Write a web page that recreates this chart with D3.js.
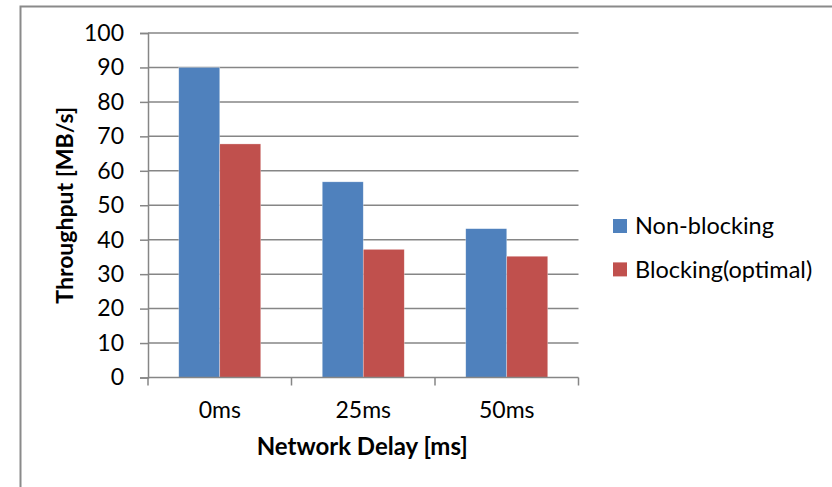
<!DOCTYPE html>
<html>
<head>
<meta charset="utf-8">
<script src="https://cdn.jsdelivr.net/npm/d3@7"></script>
<style>
  html, body { margin: 0; padding: 0; background: #fff; }
  svg { display: block; }
  text { font-family: Lato, "Open Sans", sans-serif; fill: #000; }
</style>
</head>
<body>
<svg id="chart" width="832" height="487"></svg>
<script>
const categories = ["0ms", "25ms", "50ms"];
const seriesNames = ["Non-blocking", "Blocking(optimal)"];
const nonBlocking = [90, 56.8, 43.2];
const blocking = [67.8, 37.2, 35.2];
const yTicks = [0, 10, 20, 30, 40, 50, 60, 70, 80, 90, 100];
const colors = ["#4F81BD", "#C0504D"];

(function () {
const svg = d3.select("#chart");
const W = 832, H = 487;

// outer frame
svg.append("rect")
  .attr("x", 20.5).attr("y", 6.5)
  .attr("width", W + 10).attr("height", H + 10)
  .attr("fill", "none").attr("stroke", "#8a8a8a").attr("stroke-width", 2);

const pL = 148, pR = 578.5, pT = 33, pB = 377.5;

const x = d3.scaleBand().domain(categories).range([pL, pR]).paddingInner(0).paddingOuter(0);
const y = d3.scaleLinear().domain([0, 100]).range([pB, pT]);

const data = categories.map((c, i) => ({ cat: c, vals: [nonBlocking[i], blocking[i]] }));

// gridlines
svg.append("g")
  .selectAll("line")
  .data(yTicks.filter(d => d > 0))
  .join("line")
  .attr("x1", pL).attr("x2", pR)
  .attr("y1", d => y(d)).attr("y2", d => y(d))
  .attr("stroke", "#868686").attr("stroke-width", 1.5);

// bars: Excel gap width 150% -> each bar = band/3.5, outer padding 0.75 bar each side
const inner = d3.scaleBand().domain([0, 1]).range([0, x.bandwidth()]).paddingInner(0).paddingOuter(0.75);

svg.append("g")
  .selectAll("g")
  .data(data)
  .join("g")
  .attr("transform", d => `translate(${x(d.cat)},0)`)
  .selectAll("rect")
  .data(d => d.vals.map((v, k) => ({ v, k })))
  .join("rect")
  .attr("x", d => inner(d.k))
  .attr("width", inner.bandwidth())
  .attr("y", d => y(d.v))
  .attr("height", d => y(0) - y(d.v))
  .attr("fill", d => colors[d.k])
  .attr("stroke", "rgba(255,255,255,0.5)")
  .attr("stroke-width", 0.6);

// y axis
const yAxis = d3.axisLeft(y).tickValues(yTicks).tickSize(8).tickPadding(16).tickFormat(d3.format("d"));
const gy = svg.append("g").attr("transform", `translate(${pL},0)`).call(yAxis);
gy.select(".domain").attr("stroke", "#868686").attr("stroke-width", 1.5);
gy.selectAll(".tick line").attr("stroke", "#868686").attr("stroke-width", 1.5);
gy.selectAll(".tick text").attr("font-size", 23).attr("font-family", "Lato").attr("fill", "#000");

// x axis
const xAxis = d3.axisBottom(x).tickSize(0).tickPadding(24);
const gx = svg.append("g").attr("transform", `translate(0,${pB})`).call(xAxis);
gx.select(".domain").remove();
gx.append("line").attr("x1", pL).attr("x2", pR).attr("y1", 0).attr("y2", 0)
  .attr("stroke", "#868686").attr("stroke-width", 1.5);
gx.selectAll(".tick text").attr("font-size", 23).attr("font-family", "Lato").attr("fill", "#000");
// category boundary ticks
const boundaries = categories.map(c => x(c)).concat([pR]);
gx.selectAll(".bt").data(boundaries).join("line")
  .attr("class", "bt")
  .attr("x1", d => d).attr("x2", d => d).attr("y1", 0).attr("y2", 8)
  .attr("stroke", "#868686").attr("stroke-width", 1.5);

// axis titles
svg.append("text")
  .attr("x", (pL + pR) / 2 - 1)
  .attr("y", 455)
  .attr("text-anchor", "middle")
  .attr("font-size", 24).attr("font-weight", "bold")
  .text("Network Delay [ms]");

svg.append("text")
  .attr("transform", `translate(73,${(pT + pB) / 2}) rotate(-90)`)
  .attr("text-anchor", "middle")
  .attr("font-size", 23).attr("font-weight", "bold")
  .text("Throughput [MB/s]");

// legend
const lg = svg.append("g").attr("transform", "translate(613,219)");
const items = lg.selectAll("g").data(seriesNames).join("g")
  .attr("transform", (d, i) => `translate(0,${i * 43.4})`);
items.append("rect").attr("width", 14).attr("height", 14).attr("fill", (d, i) => colors[i]);
items.append("text").attr("x", 22).attr("y", 7).attr("dy", "0.35em")
  .attr("font-size", 23.5).text(d => d);
})();
</script>
</body>
</html>
